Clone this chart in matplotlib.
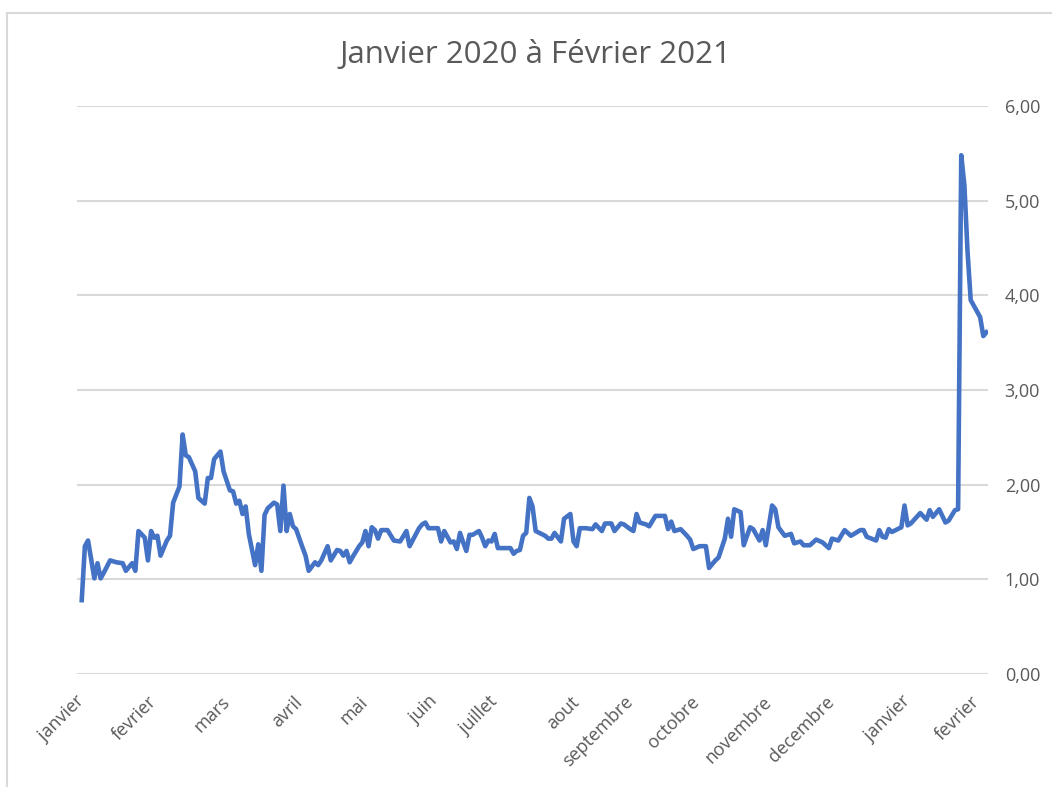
import matplotlib
matplotlib.use("Agg")
import matplotlib.pyplot as plt
from matplotlib.lines import Line2D

plt.rcParams['font.family'] = ['Open Sans', 'DejaVu Sans']

# trading-day index and value
days = [0, 1, 2, 4, 5, 6, 7, 9, 11, 13, 14, 16, 17, 18, 20, 21, 22, 23, 24, 25,
        27, 28, 29, 31, 32, 33, 34, 36, 37, 39, 40, 41, 42, 44, 45, 47, 48, 49, 50, 51,
        52, 53, 55, 56, 57, 58, 59, 61, 62, 63, 64, 65, 66, 67, 68, 70, 71, 72, 74, 75,
        76, 78, 79, 81, 82, 83, 84, 85, 86, 88, 89, 90, 91, 92, 93, 94, 95, 97, 99, 101,
        103, 104, 107, 108, 109, 110, 113, 114, 115, 117, 118, 119, 120, 121, 122, 123, 124, 126, 127, 128,
        129, 130, 131, 132, 136, 137, 138, 139, 140, 141, 142, 143, 144, 147, 148, 149, 150, 152, 153, 155,
        156, 157, 158, 160, 162, 163, 165, 166, 168, 169, 171, 172, 174, 175, 176, 177, 179, 180, 182, 185,
        186, 187, 188, 190, 192, 193, 194, 196, 198, 199, 201, 202, 204, 205, 206, 207, 209, 210, 212, 213,
        215, 216, 217, 219, 220, 221, 223, 225, 226, 228, 229, 231, 233, 235, 237, 238, 240, 242, 244, 247,
        248, 249, 252, 253, 254, 255, 256, 257, 260, 261, 262, 263, 266, 268, 269, 270, 272, 274, 275, 277,
        278, 279, 280, 281, 282, 285, 286, 287]
values = [0.78, 1.35, 1.41, 1.01, 1.17, 1.01, 1.07, 1.20, 1.18, 1.17, 1.09, 1.17, 1.09, 1.51, 1.44, 1.20, 1.51, 1.44, 1.46, 1.25,
          1.41, 1.46, 1.81, 1.98, 2.53, 2.31, 2.29, 2.14, 1.86, 1.80, 2.07, 2.07, 2.27, 2.35, 2.14, 1.94, 1.93, 1.80, 1.83, 1.69,
          1.77, 1.48, 1.15, 1.37, 1.09, 1.68, 1.75, 1.81, 1.79, 1.51, 1.99, 1.51, 1.69, 1.56, 1.53, 1.34, 1.25, 1.09, 1.18, 1.15,
          1.20, 1.35, 1.20, 1.31, 1.30, 1.25, 1.30, 1.18, 1.24, 1.35, 1.39, 1.51, 1.35, 1.55, 1.52, 1.43, 1.52, 1.52, 1.41, 1.40,
          1.51, 1.35, 1.54, 1.58, 1.60, 1.54, 1.54, 1.40, 1.51, 1.39, 1.40, 1.32, 1.49, 1.39, 1.30, 1.47, 1.47, 1.51, 1.44, 1.35,
          1.41, 1.40, 1.48, 1.33, 1.33, 1.27, 1.30, 1.31, 1.46, 1.49, 1.86, 1.77, 1.51, 1.46, 1.43, 1.43, 1.49, 1.40, 1.64, 1.69,
          1.40, 1.35, 1.54, 1.54, 1.53, 1.58, 1.51, 1.59, 1.59, 1.51, 1.59, 1.58, 1.53, 1.51, 1.69, 1.60, 1.58, 1.56, 1.67, 1.67,
          1.53, 1.61, 1.51, 1.53, 1.46, 1.42, 1.32, 1.35, 1.35, 1.12, 1.20, 1.23, 1.43, 1.64, 1.45, 1.74, 1.71, 1.36, 1.55, 1.53,
          1.41, 1.52, 1.36, 1.78, 1.74, 1.55, 1.46, 1.48, 1.38, 1.40, 1.36, 1.36, 1.42, 1.39, 1.33, 1.43, 1.41, 1.52, 1.46, 1.52,
          1.52, 1.45, 1.41, 1.52, 1.45, 1.44, 1.53, 1.50, 1.55, 1.78, 1.57, 1.59, 1.70, 1.63, 1.73, 1.66, 1.74, 1.60, 1.62, 1.73,
          1.74, 5.48, 5.16, 4.46, 3.95, 3.77, 3.57, 3.61]

month_days = [0, 23, 46, 69, 90, 112, 131, 157, 174, 195, 218, 238, 262, 284]
month_labels = ["janvier", "fevrier", "mars", "avril", "mai", "juin", "juillet",
                "aout", "septembre", "octobre", "novembre", "decembre", "janvier", "fevrier"]
y_ticks = [0, 1, 2, 3, 4, 5, 6]

GREY_TXT = "#595959"
GRID = "#D9D9D9"

fig = plt.figure(figsize=(10.52, 7.87), dpi=100)
ax = fig.add_axes([0.0732, 0.1436, 0.866, 0.7217])

ax.plot(days, values, color="#4472C4", lw=3.3, solid_joinstyle="round", zorder=3)

ax.set_xlim(-1.5, 287.5)
ax.set_ylim(0, 6)
ax.set_yticks(y_ticks)
ax.set_yticklabels([("%.2f" % t).replace(".", ",") for t in y_ticks])
ax.yaxis.tick_right()
ax.tick_params(axis="y", length=0, pad=12, labelsize=13, labelcolor=GREY_TXT)
ax.grid(axis="y", color=GRID, lw=1.5)
ax.set_axisbelow(True)

ax.set_xticks(month_days)
ax.set_xticklabels(month_labels, rotation=45, ha="right", va="center",
                   rotation_mode="anchor")
ax.tick_params(axis="x", length=0, pad=18, labelsize=13, labelcolor=GREY_TXT)

# hide the box on the edges
for s in ax.spines.values():
    s.set_visible(False)

fig.text(535/1052, 1-55/787, "Janvier 2020 à Février 2021", ha="center", va="center",
         fontsize=22.5, color=GREY_TXT)

# chart border (left and top visible in the screenshot)
fig.add_artist(Line2D([7/1052, 7/1052], [0, 1-13/787], color=GRID, lw=1.5))
fig.add_artist(Line2D([7/1052, 1], [1-13/787, 1-13/787], color=GRID, lw=1.5))

fig.savefig("out.png", dpi=100)
plt.close()
